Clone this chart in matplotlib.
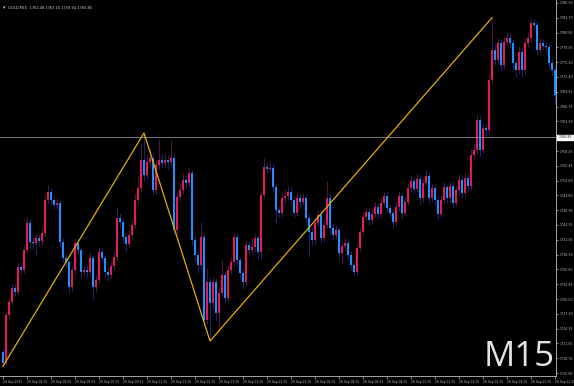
import numpy as np
import matplotlib
matplotlib.use("Agg")
import matplotlib.pyplot as plt
import matplotlib.transforms as mtrans

# GOLD M15 candles (prices)
first_open = 1719.91
closes = [
    1717.81, 1726.97, 1729.45, 1732.12, 1731.36, 1736.13, 1735.55, 1739.37, 1744.52, 1740.90,
    1740.71, 1741.66, 1741.09, 1742.61, 1748.91, 1750.44, 1748.91, 1747.96, 1748.34, 1740.90,
    1737.84, 1737.08, 1732.31, 1735.55, 1740.71, 1739.37, 1735.17, 1735.55, 1735.17, 1737.84,
    1732.31, 1733.65, 1738.99, 1737.84, 1735.17, 1734.60, 1736.32, 1738.03, 1745.48, 1744.71,
    1741.85, 1740.51, 1742.23, 1744.14, 1748.91, 1751.20, 1756.54, 1753.68, 1756.16, 1756.92,
    1750.82, 1755.59, 1756.54, 1755.97, 1756.54, 1756.16, 1756.92, 1743.19, 1749.48, 1750.82,
    1752.73, 1752.15, 1754.06, 1741.28, 1738.42, 1736.51, 1741.85, 1726.01, 1733.26, 1729.26,
    1733.26, 1727.35, 1731.17, 1734.60, 1730.21, 1735.55, 1737.08, 1741.85, 1737.46, 1734.98,
    1733.26, 1740.32, 1739.37, 1739.94, 1741.66, 1738.99, 1749.86, 1755.21, 1754.82, 1755.02,
    1751.39, 1747.00, 1746.43, 1749.29, 1749.67, 1750.44, 1748.91, 1746.43, 1749.29, 1748.53,
    1749.29, 1745.48, 1742.80, 1741.28, 1744.52, 1746.05, 1741.66, 1744.14, 1749.29, 1743.57,
    1742.23, 1743.19, 1738.80, 1740.13, 1740.71, 1738.42, 1736.51, 1735.17, 1739.75, 1742.80,
    1745.67, 1746.62, 1745.09, 1746.24, 1747.57, 1746.24, 1748.34, 1749.67, 1747.38, 1746.43,
    1744.71, 1747.57, 1749.67, 1746.43, 1748.53, 1751.20, 1752.54, 1751.01, 1752.92, 1749.29,
    1752.15, 1753.49, 1749.29, 1751.20, 1748.91, 1746.24, 1748.91, 1751.39, 1749.29, 1751.58,
    1748.34, 1750.82, 1752.73, 1750.25, 1753.11, 1751.58, 1757.50, 1758.45, 1764.17, 1758.45,
    1762.65, 1762.27, 1771.81, 1777.53, 1775.62, 1778.87, 1774.67, 1779.06, 1779.82, 1778.87,
    1775.05, 1773.71, 1777.15, 1773.71, 1778.87, 1779.82, 1782.68, 1782.30, 1777.53, 1778.87,
    1778.29, 1778.10, 1775.05, 1773.71, 1768.94,
]
highs = [
    1720.5, 1727.8, 1730.3, 1733.0, 1732.9, 1737.0, 1736.9, 1740.2, 1745.6, 1745.3,
    1741.8, 1742.5, 1742.4, 1743.6, 1749.8, 1751.8, 1751.2, 1749.6, 1749.3, 1748.9,
    1741.7, 1738.6, 1737.6, 1736.3, 1741.6, 1741.4, 1740.0, 1736.4, 1736.6, 1738.8,
    1738.5, 1734.6, 1740.0, 1739.8, 1738.4, 1736.0, 1737.1, 1738.9, 1747.5, 1746.4,
    1745.3, 1742.6, 1743.2, 1745.0, 1750.0, 1753.5, 1759.5, 1761.7, 1757.6, 1758.6,
    1757.9, 1756.5, 1760.5, 1757.9, 1757.6, 1757.3, 1760.4, 1757.6, 1750.3, 1751.9,
    1753.8, 1753.6, 1755.3, 1754.7, 1742.2, 1739.2, 1744.8, 1742.6, 1736.0, 1734.1,
    1734.3, 1734.0, 1732.1, 1737.4, 1735.3, 1736.6, 1738.0, 1742.7, 1742.4, 1738.1,
    1735.7, 1741.3, 1741.0, 1741.7, 1742.6, 1742.3, 1750.7, 1757.0, 1756.2, 1756.5,
    1755.9, 1752.1, 1747.8, 1750.2, 1751.0, 1751.6, 1751.6, 1749.7, 1750.3, 1750.2,
    1750.3, 1750.0, 1746.3, 1743.6, 1745.5, 1747.0, 1746.8, 1745.0, 1752.5, 1750.2,
    1744.3, 1744.1, 1743.9, 1741.0, 1741.6, 1741.5, 1739.2, 1737.3, 1740.6, 1743.6,
    1746.6, 1747.6, 1747.4, 1747.1, 1748.5, 1748.3, 1749.2, 1750.6, 1750.4, 1748.1,
    1747.1, 1748.5, 1750.7, 1750.4, 1749.5, 1752.2, 1753.5, 1753.3, 1754.0, 1753.6,
    1753.2, 1754.6, 1754.2, 1752.2, 1751.9, 1749.6, 1749.9, 1752.4, 1752.0, 1752.6,
    1752.3, 1751.8, 1753.8, 1753.5, 1754.2, 1753.9, 1758.6, 1759.6, 1765.3, 1764.9,
    1763.6, 1763.5, 1773.0, 1783.7, 1778.6, 1779.9, 1779.6, 1780.1, 1781.0, 1780.8,
    1779.6, 1775.8, 1778.2, 1778.0, 1779.9, 1780.9, 1783.7, 1783.5, 1783.1, 1779.9,
    1779.7, 1779.0, 1778.8, 1775.8, 1774.4,
]
lows = [
    1717.2, 1717.5, 1726.2, 1728.9, 1730.6, 1730.8, 1734.7, 1735.0, 1738.8, 1739.8,
    1739.6, 1738.5, 1740.2, 1740.3, 1742.0, 1748.2, 1748.0, 1747.1, 1747.2, 1739.9,
    1737.0, 1736.2, 1731.2, 1731.6, 1735.0, 1738.6, 1734.0, 1734.4, 1734.3, 1734.6,
    1729.9, 1731.4, 1733.0, 1737.1, 1734.3, 1733.5, 1733.9, 1735.6, 1737.4, 1743.8,
    1740.7, 1739.2, 1739.8, 1741.5, 1743.5, 1748.2, 1750.5, 1752.6, 1752.9, 1755.4,
    1749.8, 1750.0, 1754.8, 1755.0, 1755.2, 1754.9, 1755.2, 1742.3, 1742.5, 1748.7,
    1750.1, 1751.0, 1751.4, 1740.3, 1737.3, 1735.0, 1735.8, 1725.0, 1725.3, 1722.0,
    1728.2, 1726.1, 1723.6, 1730.4, 1729.3, 1729.5, 1734.8, 1736.3, 1736.5, 1733.9,
    1732.0, 1732.5, 1738.4, 1738.6, 1738.9, 1737.6, 1737.8, 1749.2, 1754.0, 1754.2,
    1750.5, 1744.5, 1745.6, 1745.7, 1748.6, 1749.0, 1748.0, 1745.5, 1745.8, 1747.6,
    1747.9, 1744.6, 1738.1, 1740.3, 1740.6, 1743.9, 1740.7, 1741.0, 1743.5, 1742.6,
    1741.3, 1741.4, 1737.7, 1736.8, 1739.4, 1737.5, 1735.6, 1734.4, 1734.6, 1739.1,
    1742.1, 1745.0, 1744.2, 1744.4, 1745.6, 1745.4, 1745.6, 1747.7, 1746.5, 1745.4,
    1743.6, 1744.0, 1746.9, 1745.5, 1745.8, 1747.9, 1750.5, 1750.1, 1750.4, 1748.2,
    1748.6, 1751.5, 1748.3, 1748.6, 1747.9, 1745.0, 1745.6, 1748.2, 1748.3, 1748.6,
    1747.3, 1747.7, 1750.1, 1749.2, 1749.6, 1750.6, 1750.9, 1756.7, 1757.7, 1757.4,
    1757.8, 1761.2, 1761.5, 1771.0, 1774.6, 1774.9, 1773.5, 1774.0, 1778.3, 1777.9,
    1773.8, 1772.4, 1773.0, 1772.6, 1773.0, 1778.1, 1779.1, 1781.6, 1776.5, 1776.8,
    1777.5, 1777.3, 1774.0, 1772.6, 1767.0,
]
opens = [first_open] + closes[:-1]

# zigzag turning points (bar index, which extreme)
zz_bars = [0, 47, 69, 163]
zz_kind = ['low', 'high', 'low', 'high']

current_price = 1760.85
title_text = "GOLD,M15  1762.48 1763.16 1759.94 1760.85"

price_ticks = [1715.90, 1718.70, 1721.55, 1724.35, 1727.20, 1730.00, 1732.85, 1735.65,
               1738.50, 1741.30, 1744.15, 1746.95, 1749.80, 1752.60, 1755.45, 1758.25,
               1763.90, 1766.75, 1769.55, 1772.40, 1775.20, 1778.05, 1780.85, 1783.70, 1786.50]
time_labels = ["24 Sep 2021", "25 Sep 01:15", "25 Sep 03:15", "25 Sep 05:15", "25 Sep 07:15",
               "25 Sep 09:15", "25 Sep 11:15", "25 Sep 13:15", "25 Sep 15:15", "25 Sep 17:15",
               "25 Sep 19:15", "25 Sep 21:15", "25 Sep 23:15", "26 Sep 02:15", "26 Sep 04:15",
               "26 Sep 06:15", "26 Sep 08:15", "26 Sep 10:15", "26 Sep 12:15", "26 Sep 14:15",
               "26 Sep 16:15", "26 Sep 18:15", "26 Sep 20:15", "26 Sep 22:15"]
label_step = 8

bull_body = '#E8185C'
bear_body = '#1E90FF'
bull_wick = '#4A1548'
bear_wick = '#15256A'
axis_col = '#BDBDBD'

fig = plt.figure(figsize=(5.74, 3.86), dpi=100, facecolor='black')
ax = fig.add_axes([0, 10/386, 556/574, 376/386])
ax.set_facecolor('black')

o = np.array(opens)
c = np.array(closes)
h = np.array(highs)
l = np.array(lows)
x = np.arange(len(c))
up = c >= o

ax.vlines(x[up], l[up], h[up], color=bull_wick, lw=0.8, zorder=1)
ax.vlines(x[~up], l[~up], h[~up], color=bear_wick, lw=0.8, zorder=1)
body = np.where(np.abs(c - o) < 0.15, 0.15, c - o)
ax.bar(x[up], body[up], bottom=o[up], width=0.62, color=bull_body, lw=0, zorder=2)
ax.bar(x[~up], body[~up], bottom=o[~up], width=0.62, color=bear_body, lw=0, zorder=2)

zz_y = [l[b] if k == 'low' else h[b] for b, k in zip(zz_bars, zz_kind)]
ax.plot(zz_bars, zz_y, color='#E0B000', lw=0.9, zorder=4)

ax.axhline(current_price, color='#8A8A8A', lw=0.6, zorder=3)

ax.set_xlim(-1, 184.33)
ax.set_ylim(1715.33, 1787.07)

for s in ['top', 'left']:
    ax.spines[s].set_visible(False)
for s in ['right', 'bottom']:
    ax.spines[s].set_color(axis_col)
    ax.spines[s].set_linewidth(0.6)

ax.yaxis.tick_right()
ax.set_yticks(price_ticks)
ax.set_yticklabels([f"{v:.2f}" for v in price_ticks])
ax.tick_params(axis='y', colors=axis_col, labelsize=2.35, length=1.5, width=0.5, pad=0.8)

ax.set_xticks(np.arange(len(time_labels)) * label_step)
ax.set_xticklabels(time_labels)
ax.tick_params(axis='x', colors=axis_col, labelsize=2.2, length=2, width=0.5, pad=1)
for lab in ax.get_xticklabels():
    lab.set_horizontalalignment('left')

tr = mtrans.blended_transform_factory(ax.transAxes, ax.transData)
ax.text(1.004, current_price, f"{current_price:.2f}", transform=tr, fontsize=2.35,
        color='black', va='center', ha='left', zorder=5,
        bbox=dict(boxstyle='square,pad=0.25', fc='white', ec='white'), clip_on=False)

fig.text(3/574, 1 - 8/386, "\u25BE", color='#D0D0D0', fontsize=3.5, va='center', ha='left')
fig.text(8/574, 1 - 8/386, title_text, color='#D0D0D0', fontsize=2.6, va='center', ha='left')
fig.text(519/574, 1 - 357/386, "M15", color='#E4E4E4', fontsize=25, va='center', ha='center',
         family=['Open Sans', 'DejaVu Sans'])

fig.savefig('out.png', dpi=100, facecolor='black')
